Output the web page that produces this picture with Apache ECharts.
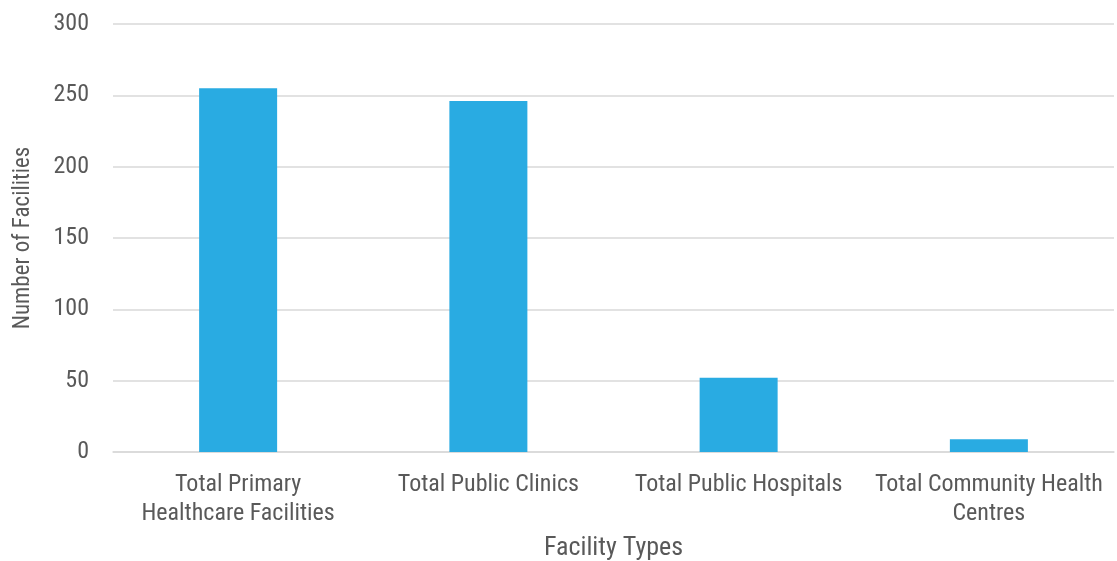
<!DOCTYPE html>
<html>
<head>
<meta charset="utf-8">
<script src="https://cdn.jsdelivr.net/npm/echarts@6/dist/echarts.min.js"></script>
<style>
  html, body { margin: 0; padding: 0; background: #ffffff; }
  #chart { width: 1117px; height: 561px; }
</style>
</head>
<body>
<div id="chart"></div>
<script>
// Facility counts by type
const categories = [
  'Total Primary\nHealthcare Facilities',
  'Total Public Clinics',
  'Total Public Hospitals',
  'Total Community Health\nCentres'
];
const facilityCounts = [255, 246, 52, 9];
const yTicks = { min: 0, max: 300, interval: 50 };

const FONT = "'Liberation Sans Narrow', 'Roboto Condensed', 'DejaVu Sans Condensed', Roboto, sans-serif";
const TEXT = '#595959';

const chart = echarts.init(document.getElementById('chart'), null, { renderer: 'canvas' });
chart.setOption({
  animation: false,
  backgroundColor: '#ffffff',
  grid: { left: 113, right: 3, top: 24, bottom: 109, containLabel: false, outerBoundsMode: 'none' },
  xAxis: {
    type: 'category',
    data: categories,
    name: 'Facility Types',
    nameLocation: 'middle',
    nameGap: 83,
    nameTextStyle: { color: TEXT, fontSize: 26, fontFamily: FONT },
    axisLine: { show: true, lineStyle: { color: '#d9d9d9', width: 1.5 } },
    axisTick: { show: false },
    axisLabel: {
      color: TEXT, fontSize: 24, fontFamily: FONT,
      lineHeight: 29, margin: 18, interval: 0
    }
  },
  yAxis: {
    type: 'value',
    min: yTicks.min,
    max: yTicks.max,
    interval: yTicks.interval,
    name: 'Number of Facilities',
    nameLocation: 'middle',
    nameGap: 78,
    nameTextStyle: { color: TEXT, fontSize: 23, fontFamily: FONT },
    axisLine: { show: false },
    axisTick: { show: false },
    axisLabel: { color: TEXT, fontSize: 24, fontFamily: FONT, margin: 24 },
    splitLine: { lineStyle: { color: '#d9d9d9', width: 1.5 } }
  },
  series: [{
    type: 'bar',
    data: facilityCounts,
    barWidth: 78,
    itemStyle: { color: '#29abe2' }
  }]
});
</script>
</body>
</html>
